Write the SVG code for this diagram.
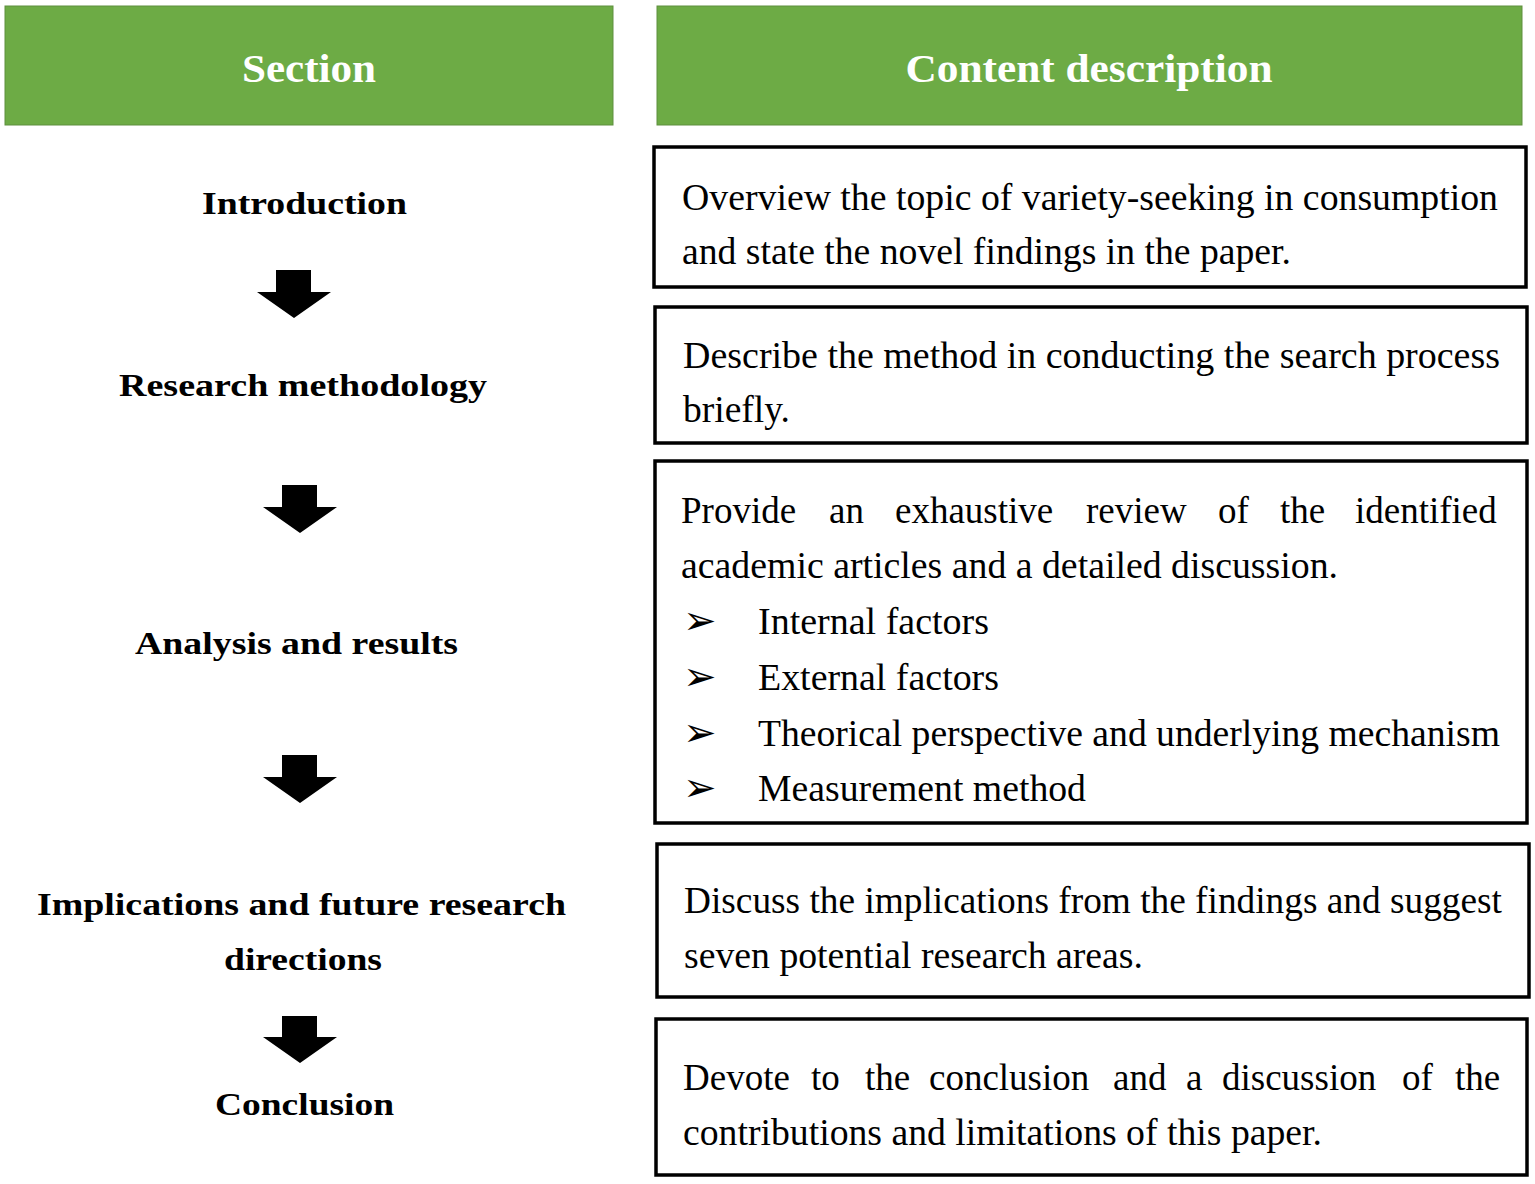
<svg xmlns="http://www.w3.org/2000/svg" width="1535" height="1184" viewBox="0 0 1535 1184">
<style>
.hdr{fill:#6dab45;stroke:#5e8f3e;stroke-width:1}
.htxt{font-family:"Liberation Serif",serif;font-weight:bold;font-size:40px;fill:#fff;text-anchor:middle}
.sec{font-family:"Liberation Serif",serif;font-weight:bold;font-size:32px;fill:#000}
.box{fill:#fff;stroke:#000;stroke-width:3.5}
.bt{font-family:"Liberation Serif",serif;font-size:37px;fill:#000}
.bul{font-family:"DejaVu Sans",sans-serif;font-size:40px;fill:#000}
.arr{fill:#000}
</style>
<rect width="1535" height="1184" fill="#fff"/>
<g id="header-section"><rect class="hdr" x="5" y="6" width="608" height="119"/><text class="htxt" x="309" y="82" textLength="134" lengthAdjust="spacingAndGlyphs">Section</text></g>
<g id="header-content"><rect class="hdr" x="657" y="6" width="865" height="119"/><text class="htxt" x="1089" y="82" textLength="367" lengthAdjust="spacingAndGlyphs">Content description</text></g>

<g id="sec-introduction"><text class="sec" x="202" y="214" textLength="205" lengthAdjust="spacingAndGlyphs">Introduction</text></g>
<g id="sec-methodology"><text class="sec" x="119" y="396" textLength="368" lengthAdjust="spacingAndGlyphs">Research methodology</text></g>
<g id="sec-analysis"><text class="sec" x="135" y="654" textLength="323" lengthAdjust="spacingAndGlyphs">Analysis and results</text></g>
<g id="sec-implications"><text class="sec" x="37" y="915" textLength="529" lengthAdjust="spacingAndGlyphs">Implications and future research</text><text class="sec" x="224" y="970" textLength="158" lengthAdjust="spacingAndGlyphs">directions</text></g>
<g id="sec-conclusion"><text class="sec" x="215" y="1115" textLength="179" lengthAdjust="spacingAndGlyphs">Conclusion</text></g>

<g id="connectors">
<path class="arr" d="M276 270H311V292H331L294 318L257 292H276Z"/>
<path class="arr" d="M282 485H317V507H337L300 533L263 507H282Z"/>
<path class="arr" d="M282 755H317V777H337L300 803L263 777H282Z"/>
<path class="arr" d="M282 1016H317V1037H337L300 1063L263 1037H282Z"/>
</g>

<g id="desc-introduction"><rect class="box" x="654" y="147" width="872" height="140"/>
<text class="bt" x="682" y="210" textLength="816" lengthAdjust="spacingAndGlyphs">Overview the topic of variety-seeking in consumption</text>
<text class="bt" x="682" y="264" textLength="609" lengthAdjust="spacingAndGlyphs">and state the novel findings in the paper.</text></g>
<g id="desc-methodology"><rect class="box" x="655" y="307" width="872" height="136"/>
<text class="bt" x="683" y="368" textLength="817" lengthAdjust="spacingAndGlyphs">Describe the method in conducting the search process</text>
<text class="bt" x="683" y="422" textLength="107" lengthAdjust="spacingAndGlyphs">briefly.</text></g>
<g id="desc-analysis"><rect class="box" x="655" y="461" width="872" height="362"/>
<text class="bt" y="523"><tspan x="681">Provide</tspan><tspan x="829">an</tspan><tspan x="895">exhaustive</tspan><tspan x="1086">review</tspan><tspan x="1218">of</tspan><tspan x="1280">the</tspan><tspan x="1355">identified</tspan></text>
<text class="bt" x="681" y="578" textLength="657" lengthAdjust="spacingAndGlyphs">academic articles and a detailed discussion.</text>
<text class="bul" x="683" y="634">➢</text><text class="bt" x="758" y="634" textLength="231" lengthAdjust="spacingAndGlyphs">Internal factors</text>
<text class="bul" x="683" y="690">➢</text><text class="bt" x="758" y="690" textLength="241" lengthAdjust="spacingAndGlyphs">External factors</text>
<text class="bul" x="683" y="746">➢</text><text class="bt" x="758" y="746" textLength="742" lengthAdjust="spacingAndGlyphs">Theorical perspective and underlying mechanism</text>
<text class="bul" x="683" y="801">➢</text><text class="bt" x="758" y="801" textLength="328" lengthAdjust="spacingAndGlyphs">Measurement method</text></g>
<g id="desc-implications"><rect class="box" x="657" y="844" width="872" height="153"/>
<text class="bt" x="684" y="913" textLength="818" lengthAdjust="spacingAndGlyphs">Discuss the implications from the findings and suggest</text>
<text class="bt" x="684" y="968" textLength="459" lengthAdjust="spacingAndGlyphs">seven potential research areas.</text></g>
<g id="desc-conclusion"><rect class="box" x="656" y="1019" width="871" height="156"/>
<text class="bt" y="1090"><tspan x="683">Devote</tspan><tspan x="811">to</tspan><tspan x="865">the</tspan><tspan x="929">conclusion</tspan><tspan x="1113">and</tspan><tspan x="1186">a</tspan><tspan x="1222">discussion</tspan><tspan x="1402">of</tspan><tspan x="1455">the</tspan></text>
<text class="bt" x="683" y="1145" textLength="639" lengthAdjust="spacingAndGlyphs">contributions and limitations of this paper.</text></g>
</svg>
